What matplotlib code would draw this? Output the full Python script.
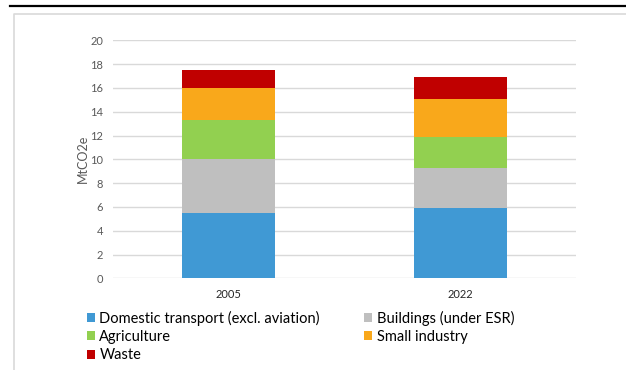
import matplotlib.pyplot as plt
from matplotlib.lines import Line2D
import numpy as np

plt.rcParams['font.family'] = ['Lato', 'DejaVu Sans']

years = ["2005", "2022"]
sectors = ["Domestic transport (excl. aviation)", "Buildings (under ESR)",
           "Agriculture", "Small industry", "Waste"]
transport = [5.5, 5.9]
buildings = [4.5, 3.35]
agriculture = [3.33, 2.65]
small_industry = [2.67, 3.14]
waste = [1.5, 1.88]
colors = ["#4099d4", "#bfbfbf", "#92d050", "#f9a81b", "#c00000"]

W, H = 626, 370
fig = plt.figure(figsize=(W / 100, H / 100), dpi=100)

# page rule and chart frame
fig.add_artist(Line2D([10 / W, 1], [1 - 6 / H, 1 - 6 / H], color="black", lw=1.6))
fig.add_artist(Line2D([14 / W, 14 / W, 1], [0, 1 - 14 / H, 1 - 14 / H], color="#d9d9d9", lw=1.2))

ax = fig.add_axes([113 / W, 1 - 278.3 / H, 463 / W, 238 / H])
x = np.arange(len(years))
bottom = np.zeros(len(years))
series = [transport, buildings, agriculture, small_industry, waste]
for name, vals, c in zip(sectors, series, colors):
    ax.bar(x, vals, 0.4, bottom=bottom, color=c, label=name, zorder=3)
    bottom += np.array(vals)

ax.set_xlim(-0.5, 1.5)
ax.set_ylim(0, 20)
ax.set_yticks(range(0, 21, 2))
ax.set_xticks(x)
ax.set_xticklabels(years)
ax.grid(axis="y", color="#d9d9d9", lw=1, zorder=0)
for s in ax.spines.values():
    s.set_visible(False)
ax.tick_params(length=0)
ax.tick_params(axis="y", labelsize=8, labelcolor="#595959", pad=7)
ax.tick_params(axis="x", labelsize=8, labelcolor="#262626", pad=8)
ax.set_ylabel("MtCO2e", fontsize=9, color="#595959")
ax.yaxis.set_label_coords(-(113 - 89) / 463, 0.5)

handles, labels = ax.get_legend_handles_labels()
order = [0, 2, 4, 1, 3]
fig.legend([handles[i] for i in order], [labels[i] for i in order],
           loc="upper left", bbox_to_anchor=(87 / W, 1 - 310.5 / H), ncol=2,
           frameon=False, fontsize=10.5, handlelength=0.55, handleheight=0.55,
           handletextpad=0.3, columnspacing=3.05, labelspacing=0.3,
           borderaxespad=0, borderpad=0)

fig.savefig("out.png", dpi=100)
